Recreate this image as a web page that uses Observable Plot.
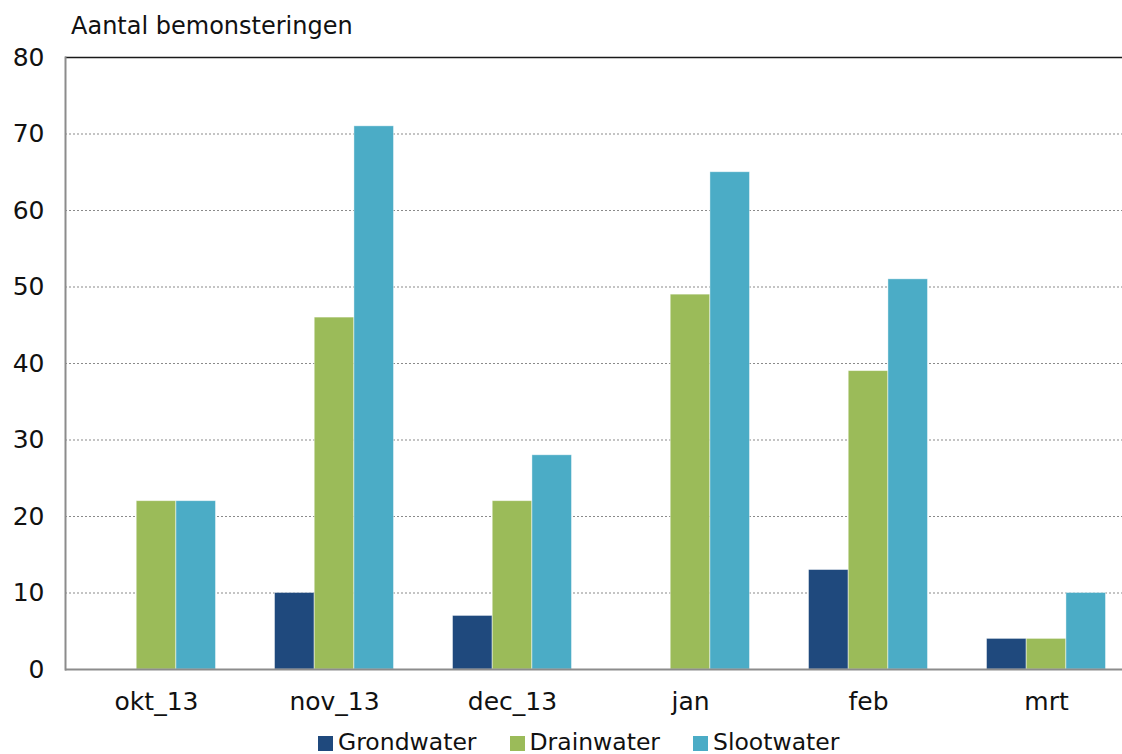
<!DOCTYPE html>
<html>
<head>
<meta charset="utf-8">
<script src="https://cdn.jsdelivr.net/npm/d3@7"></script>
<script src="https://cdn.jsdelivr.net/npm/@observablehq/plot@0.6"></script>
<style>
  html, body { margin: 0; padding: 0; background: #fff; }
  body { width: 1122px; height: 754px; overflow: hidden; font-family: Verdana, "DejaVu Sans", sans-serif; color: #111; }
  #title { height: 40px; box-sizing: border-box; padding-left: 71px; padding-top: 12px; font-size: 24px; line-height: 28px; }
  #chart svg { display: block; }
  #legend { position: relative; height: 24px; display: flex; gap: 33px; padding-left: 318px; font-size: 23.5px; line-height: 24px; }
  .item { display: flex; align-items: center; }
  .sw { width: 15px; height: 15px; margin-right: 5px; margin-top: 3px; }
</style>
</head>
<body>
<div id="title">Aantal bemonsteringen</div>
<div id="chart"></div>
<div id="legend"></div>
<script>
const months = ["okt_13", "nov_13", "dec_13", "jan", "feb", "mrt"];
const grondwater = [0, 10, 7, 0, 13, 4];
const drainwater = [22, 46, 22, 49, 39, 4];
const slootwater = [22, 71, 28, 65, 51, 10];
const seriesNames = ["Grondwater", "Drainwater", "Slootwater"];
const seriesColors = ["#1F497D", "#9BBB59", "#4BACC6"];
const yTicks = [0, 10, 20, 30, 40, 50, 60, 70, 80];

const seriesValues = [grondwater, drainwater, slootwater];
const rows = seriesValues.map((vals, s) =>
  months.map((m, i) => ({ month: m, series: seriesNames[s], value: vals[i] })).filter(d => d.value > 0)
);

const width = 1122, height = 690;
const bandStart = 66, bandEnd = 1135;
const bandwidth = (bandEnd - bandStart) / months.length;
const barW = 39.7;
const inset = (bandwidth - barW) / 2;
const font = 'Verdana, "DejaVu Sans", sans-serif';

const chart = Plot.plot({
  width, height,
  marginLeft: 65, marginRight: 0, marginTop: 17, marginBottom: 61,
  style: { fontFamily: font, fontSize: "25px", color: "#111", background: "white" },
  x: { domain: months, range: [bandStart, bandEnd], padding: 0, label: null },
  y: { domain: [0, 80], label: null },
  marks: [
    Plot.ruleY(yTicks.filter(t => t > 0 && t < 80), { stroke: "#8a8a8a", strokeWidth: 1.2, strokeDasharray: "2,2" }),
    Plot.ruleY([80], { stroke: "#1a1a1a", strokeWidth: 1.6 }),
    ...rows.map((data, s) => Plot.barY(data, {
      x: "month", y: "value",
      fill: seriesColors[s],
      stroke: "white", strokeOpacity: 0.5, strokeWidth: 0.8,
      insetLeft: inset, insetRight: inset,
      dx: (s - 1) * barW
    })),
    Plot.ruleY([0], { stroke: "#8c8c8c", strokeWidth: 2.2 }),
    Plot.frame({ anchor: "left", stroke: "#8c8c8c", strokeWidth: 2 }),
    Plot.axisY({ ticks: yTicks, tickSize: 0, tickPadding: 21, fontSize: 25, label: null }),
    Plot.axisX({ tickSize: 0, tickPadding: 23, fontSize: 25, label: null })
  ]
});
document.getElementById("chart").append(chart);

const legend = document.getElementById("legend");
seriesNames.forEach((name, i) => {
  const item = document.createElement("div");
  item.className = "item";
  const sw = document.createElement("span");
  sw.className = "sw";
  sw.style.background = seriesColors[i];
  const label = document.createElement("span");
  label.textContent = name;
  item.append(sw, label);
  legend.append(item);
});
</script>
</body>
</html>
